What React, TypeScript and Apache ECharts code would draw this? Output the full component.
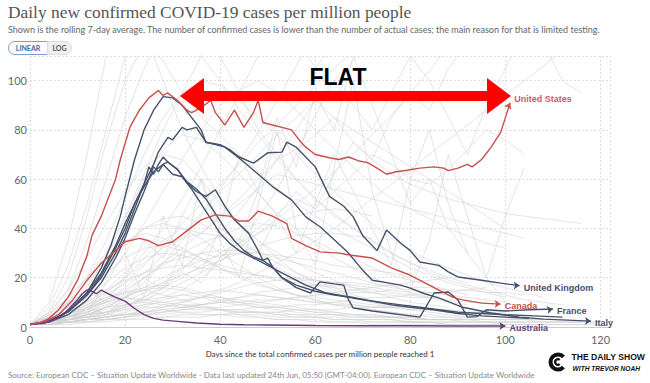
import React, { useEffect, useRef } from "react";
import * as echarts from "echarts";

// ---- highlighted countries: [day, cases per million] ----
const US: number[][] = [[0,1],[2,1.6],[4,3.5],[6,7],[8,12],[10,19],[12,29],[13,37],[15,45],[16,50],[18,60],[19,68],[21,81],[23,88],[25,93],[27,96],[28,94],[29,95],[31,92],[33,88],[34,87],[36,89],[38,92],[39,87],[41,82],[43,88],[45,81],[47,87],[48,92],[49,83],[51,82],[53,81],[55,80],[57,75],[58,73],[60,70],[63,68.7],[65,68],[67,69],[69,67.5],[71,66.7],[73,64.5],[75,62],[77,63],[79,63.5],[82,64.5],[85,65],[87,64.5],[88,63.5],[90,64.5],[92,66],[93,65],[95,68],[97,73],[99,79],[100,85],[101,91]];
const CANADA: number[][] = [[0,1],[3,2],[6,5],[9,11],[12,19],[15,26],[18,31],[20,34.6],[23,36],[25,35],[27,33],[30,34.6],[33,39],[36,43.5],[39,45.5],[42,45],[44,43],[46,43],[48,47],[51,45],[54,42],[55,36],[58,33],[61,30.5],[65,30],[68,29],[72,28],[76,24],[80,21],[83,18],[86,15],[89,12],[91,11],[95,9.7],[99,9.3]];
const ITALY: number[][] = [[0,1],[3,2],[6,4],[9,8],[12,14],[15,24],[17,33],[19,45],[20,53],[22,68],[24,80],[26,88],[28,93.5],[30,93],[32,90],[34,85],[36,80],[37,75],[39,74],[41,73],[43,70],[45,67],[48,62],[51,57],[55,51.6],[58,44.7],[61,40.7],[64,35.4],[67,30],[70,23],[72,19],[75,18],[78,17],[80,15.8],[83,13.5],[86,11.8],[91,8],[97,5.7],[103,4],[108,3.2],[113,2.8],[118,2.4]];
const UK: number[][] = [[0,1],[3,2],[6,4],[9,8],[12,14],[15,22],[18,33],[20,42],[22,50],[24,58],[26,66],[27,71],[29,77],[30,76],[32,81],[33,80],[35,81],[36,78],[37,75],[40,74],[42,72],[44,69],[47,66.5],[50,70.7],[53,71],[54,75],[56,73],[58,69],[60,65],[63,53],[66,49],[68,44.7],[70,37],[73,31],[75,39.4],[78,34],[80,31],[82,26.4],[86,25],[88,22.4],[90,20.3],[95,19],[99,17.8],[103,16.8]];
const FRANCE: number[][] = [[0,1],[3,2],[6,4],[9,8],[12,13],[15,20],[18,30],[20,38],[22,48],[24,58],[25,65],[26,62],[27,66],[28,69],[29,67],[31,64],[33,58.5],[35,55],[37,53],[39,55.7],[41,49],[43,43.5],[46,38],[48,31],[49,27],[51,24.4],[53,20],[56,16],[59,13.8],[61,18.3],[64,17.5],[66,17],[67,11],[68,7.7],[72,6.5],[76,5.5],[80,4.5],[82,4],[85,13.8],[88,14.2],[90,11],[92,4],[94,4.2],[96,7],[100,6.5],[105,7],[110,7.3]];
const OTHER_A: number[][] = [[0,1],[4,2.5],[8,6],[12,13],[15,21],[18,32],[20,40],[22,50],[24,57],[26,63],[28,66],[29,67],[31,64],[33,59],[35,56],[37,52],[39,46],[41,40],[43,35],[45,31],[47,28.5],[49,27],[50,28],[51,24.4],[53,20],[56,17],[60,14.5],[64,13],[68,12],[72,10.5],[76,9],[80,8],[85,7],[90,5.5],[95,4.5],[100,4],[105,3.5]];
const OTHER_B: number[][] = [[0,1],[4,2],[8,5],[12,11],[15,18],[18,28],[20,36],[22,46],[24,55],[25,60],[26,65],[27,63],[28,66],[30,62],[32,61],[34,56],[36,50],[38,44],[40,38],[42,34],[44,31],[47,28],[50,25],[54,21],[58,17],[62,14],[66,12.5],[70,11],[74,10],[78,9],[82,8],[86,7],[90,6],[95,5.5],[100,5],[106,4.5],[112,4]];
const AUSTRALIA: number[][] = [[0,1],[3,1.5],[5,3],[7,5],[9,9],[10,11],[11,13.5],[12,15],[13,14.5],[14,13.5],[15,15],[16,14],[18,12],[20,10.5],[22,7.5],[24,5],[26,3.5],[28,2.8],[31,2.3],[35,1.6],[40,1.1],[45,0.9],[50,0.8],[60,0.6],[70,0.5],[80,0.5],[90,0.4],[100,0.4]];

// ---- all other countries (values every 4 days from day 0) ----
const GRAY_STEP = 4;
const GRAY_LINES: number[][] = [
  [1,2,3,5,6,8,9,10,9,8,7,7,6,5,5,4,4,3,3,3,2,2,2,2,2,1,1,1,1,1],
  [1,1,2,3,4,6,8,11,13,14,15,14,13,12,11,10,9,9,8,8,7,7,7,6,6,6],
  [1,2,2,3,3,4,5,5,6,6,7,7,8,8,9,9,10,11,12,12,13,14,14,15,16],
  [1,3,6,9,12,14,15,13,11,9,7,5,4,3,3,2,2,2,1,1,1,1,1,1,1,1,1,1],
  [1,1,2,2,3,3,4,4,5,5,5,6,6,6,7,7,7,8,8,8,9],
  [1,2,4,7,10,12,11,10,11,12,10,9,8,8,7,6,6,5,5,4,4,3,3,3,2,2,2,2,2,2,2],
  [1,2,3,4,4,5,6,7,8,9,10,12,13,12,11,10,10,9,8,8],
  [1,1,1,2,2,3,3,4,4,4,5,5,5,4,4,4,3,3,3,3,2,2,2,2,2,2,2,2,2,2,2],
  [1,2,3,5,7,9,11,12,13,12,12,11,10,9,8,7,6,5,5,4,4,3,3],
  [1,3,5,8,11,14,16,17,16,14,12,10,9,8,7,6,5,5,4,4,3,3,3,2,2,2,2],
  [1,2,2,3,4,5,7,9,10,12,14,16,18,19,20,19,18,17,16,15,14],
  [1,1,2,3,3,4,6,7,6,5,5,4,4,3,3,3,2,2,2,2,2,2,1,1,1,1,1,1,1,1,1],
  [1,2,4,5,6,7,8,8,9,9,10,10,11,11,12,13,13,14,14,15],
  [1,2,3,3,4,5,5,6,7,8,8,9,10,11,12,13,14,15,16,17,18,19,20],
  [1,3,4,6,8,9,10,9,8,8,7,6,6,5,4,4,3,3,2,2,2,2,1,1,1,1],
  [1,2,5,8,10,13,15,16,15,13,11,10,8,7,6,5,5,4,4,4,3,3,3,3],
  [1,1,2,2,3,4,5,6,8,9,11,12,14,15,16,17,17,16,15,14,13,12],
  [1,2,3,4,5,5,6,6,7,7,7,6,6,6,5,5,5,4,4,4,4,3,3,3,3,3,3,3],
  [1,3,7,12,18,24,28,30,29,27,24,21,18,15,13,11,9,8,7,6,5,5,4,4,3,3,3,3],
  [1,2,5,9,14,20,26,32,36,38,37,34,30,26,22,19,16,13,11,9,8,7,6,5],
  [1,4,9,15,22,28,32,33,31,28,25,23,21,19,18,17,16,15,14,13,12,12,11,10,10],
  [1,2,4,7,11,15,20,25,30,34,37,40,42,41,38,35,31,28,24,21,19,17,15,13],
  [1,3,6,10,15,19,22,24,25,24,23,22,21,20,19,19,18,18,17,17,16,16,15,15,14,14,13],
  [1,2,3,5,8,12,16,20,24,27,29,30,30,29,28,27,25,24,23,22,20],
  [1,3,8,15,24,33,40,44,45,42,38,33,28,24,20,17,14,12,10,9,8,7,6],
  [1,2,4,6,9,12,15,18,21,24,27,30,33,35,37,38,38,37,36],
  [1,5,12,20,28,35,38,36,32,28,24,20,17,15,13,12,11,10,9,8,8,7,7,6,6,5],
  [1,2,4,8,13,18,22,26,28,30,31,31,30,28,26,24,22,20,18,16,15,14,13,12,11,10],
  [1,2,3,4,6,9,12,16,20,25,30,34,38,42,45,47,48,47,45],
  [1,4,10,18,26,34,40,42,40,36,30,25,20,16,13,11,9,8,7,6,5,4,4,3,3,3,3,2,2,2],
  [1,2,4,8,12,18,25,33,42,50,58,66,75,82,90,98,105,112,118,125],
  [1,3,6,10,15,22,30,40,52,65,80,95,110,125,118,105,115,130,140],
  [1,2,3,5,8,12,18,26,35,45,55,62,70,78,85,92,100,108,115,120,125,130],
  [1,5,12,20,30,45,62,80,95,110,125,140],
  [1,2,5,9,14,20,28,35,40,38,45,52,60,68,72,78,85,80,75,70,65,60,55,50,45,40],
  [1,3,8,15,10,20,35,28,45,60,40,70,55,85,65,95,80,110,90,70,50,60,40,30],
  [1,2,4,6,10,14,20,26,32,38,44,50,56,62,60,58,56,54,52,50,48,46,44,42,40,38,36],
  [1,2,3,4,6,8,11,14,18,22,27,32,38,44,50,56,63,70,78,86,95,104,114],
  [1,4,2,8,5,12,20,15,30,22,40,35,55,45,30,50,70,55,40,25,60,80,50,30,20,45,65],
  [1,6,15,28,42,55,65,70,68,60,50,42,35,30,26,22,19,16,14,12,10,9,8],
  [1,2,6,12,20,30,42,55,68,80,90,96,100,95,88,80,72,65,58,52,48,44,40,37,34,32],
  [1,3,10,5,18,30,12,45,25,60,35,20,50,80,40,25,65,100,55,30,15,35,70,45,20,10],
  [1,2,3,4,5,7,9,12,15,20,26,34,44,56,70,86,100,90,80,95,110,100,85,70,90,105,120,115,100,95],
  [1,1,2,3,5,8,12,17,23,30,38,47,57,68,80,92,85,75,68,62,58,55,52,50,48,46,45,44,43,42],
  [1,2,4,7,11,16,22,29,37,46,56,67,79,92,106,120],
  [1,3,5,4,8,12,10,16,22,18,28,36,30,45,55,48,62,75,68,85,95,88,105,115],
  [1,2,3,5,8,10,14,18,24,30,28,34,40,46,52,48,55,62,70,66,60,58,64,72,80,76,70],
  [1,2,2,3,4,5,6,8,10,12,15,18,22,26,30,35,40,46,52,58,64,70,76,82,88,94,100,106,112,118],
  [1,8,25,50,80,110,135,150,140,125,110,95,80,70,60,52,45,40,35,30,26,22,19,17,15,13,11,10,9],
  [1,5,15,35,60,85,105,120,118,110,100,88,78,68,60,52,46,40,35,30,26,23,20,18],
  [1,10,35,70,110,140,120,100,80,65,52,42,35,28,22,18,15,12,10,8,7,6,5,4],
  [1,4,10,20,35,52,70,85,95,100,98,92,85,78,70,62,55,48,42,36,31,27,24,21,18,16,14,12],
  [1,6,20,45,75,100,115,108,95,85,78,70,63,56,50,45,40,36,32,28,24,21,18,16,14,12],
  [1,3,8,16,28,44,60,72,78,76,70,62,54,46,40,34,28,24,20,17,14,12,10,9],
];

const Y_TICKS = [0, 20, 40, 60, 80, 100];
const X_TICKS = [0, 20, 40, 60, 80, 100, 120];

const TITLE = "Daily new confirmed COVID-19 cases per million people";
const SUBTITLE = "Shown is the rolling 7-day average. The number of confirmed cases is lower than the number of actual cases; the main reason for that is limited testing.";
const X_NAME = "Days since the total confirmed cases per million people reached 1";
const SOURCE = "Source: European CDC \u2013 Situation Update Worldwide - Data last updated 24th Jun, 05:50 (GMT-04:00). European CDC \u2013 Situation Update Worldwide";

const RED = "#c8504c";
const SLATE = "#44516a";
const PURPLE = "#6b3a7d";

const HIGHLIGHTS = [
  { name: "", data: OTHER_A, color: SLATE, label: SLATE, rot: -90 },
  { name: "", data: OTHER_B, color: SLATE, label: SLATE, rot: -90 },
  { name: "Italy", data: ITALY, color: SLATE, label: SLATE, rot: -90 },
  { name: "France", data: FRANCE, color: SLATE, label: SLATE, rot: -80 },
  { name: "United Kingdom", data: UK, color: SLATE, label: SLATE, rot: -90 },
  { name: "Canada", data: CANADA, color: RED, label: RED, rot: -90 },
  { name: "Australia", data: AUSTRALIA, color: PURPLE, label: PURPLE, rot: -90 },
  { name: "United States", data: US, color: RED, label: "#cf5c5a", rot: -25 },
];

export default function App() {
  const ref = useRef<HTMLDivElement>(null);
  useEffect(() => {
    if (!ref.current) return;
    const chart = echarts.init(ref.current, undefined, { renderer: "svg" });

    const graySeries = GRAY_LINES.map((vals, k) => ({
      type: "line",
      name: "g" + k,
      data: vals.map((v, i) => [i * GRAY_STEP, v]),
      symbol: "none",
      silent: true,
      z: 1,
      lineStyle: { color: "#d2d2d2", width: 0.8, opacity: 0.75 },
    }));

    const hiSeries = HIGHLIGHTS.map((h, k) => ({
      type: "line",
      name: h.name,
      data: h.data.map((p, i) =>
        i === h.data.length - 1 && h.name
          ? { value: p, symbol: "arrow", symbolSize: 6, symbolRotate: h.rot }
          : { value: p, symbol: "none" }
      ),
      symbol: "none",
      showSymbol: true,
      silent: true,
      z: 3 + k,
      itemStyle: { color: h.color },
      lineStyle: { color: h.color, width: 1.4 },
      endLabel: h.name
        ? {
            show: true,
            formatter: h.name,
            color: h.label,
            fontFamily: "Liberation Sans, Arial, sans-serif",
            fontWeight: "bold",
            fontSize: 9,
            distance: 4,
            offset: h.name === "United States" ? [0, -4] : [0, 2],
          }
        : { show: false },
    }));

    chart.setOption({
      animation: false,
      grid: { left: 30, right: 40, top: 56, bottom: 56, containLabel: false },
      xAxis: {
        type: "value",
        min: 0,
        max: 122,
        interval: 20,
        name: X_NAME,
        nameLocation: "middle",
        nameGap: 23,
        nameTextStyle: { fontFamily: "Lato", fontSize: 8, color: "#333" },
        axisLine: { show: true, lineStyle: { color: "#ccc" } },
        axisTick: { show: false },
        axisLabel: {
          margin: 7,
          fontFamily: "Lato",
          fontSize: 11,
          color: "#666",
          formatter: (v: number) => (X_TICKS.includes(v) ? String(v) : ""),
        },
        splitLine: { show: true, lineStyle: { color: "#dedede", type: [2, 2] } },
      },
      yAxis: {
        type: "value",
        min: 0,
        max: 110,
        interval: 20,
        axisLine: { show: false },
        axisTick: { show: false },
        axisLabel: {
          margin: 3,
          fontFamily: "Lato",
          fontSize: 11,
          color: "#666",
          formatter: (v: number) => (Y_TICKS.includes(v) ? String(v) : ""),
        },
        splitLine: { show: true, lineStyle: { color: "#dedede", type: [2, 2] } },
      },
      series: [...graySeries, ...hiSeries],
      graphic: [
        { type: "text", left: 8, top: 3, style: { text: TITLE, fontFamily: "Liberation Serif, serif", fontSize: 17.4, fill: "#555" } },
        { type: "text", left: 8, top: 25, style: { text: SUBTITLE, fontFamily: "Lato", fontSize: 9, fill: "#666" } },
        { type: "rect", shape: { x: 8.5, y: 41.5, width: 39, height: 13, r: [6.5, 0, 0, 6.5] }, style: { fill: "#fff", stroke: "#7d9fcf", lineWidth: 1 } },
        { type: "text", x: 28, y: 48, style: { text: "LINEAR", fontFamily: "Lato", fontWeight: "bold", fontSize: 7, fill: "#3d68a8", align: "center", verticalAlign: "middle" } },
        { type: "rect", shape: { x: 47.5, y: 41.5, width: 24, height: 13, r: [0, 6.5, 6.5, 0] }, style: { fill: "#eeeeee", stroke: "#dddddd", lineWidth: 1 } },
        { type: "text", x: 59.5, y: 48, style: { text: "LOG", fontFamily: "Lato", fontWeight: "bold", fontSize: 7, fill: "#555", align: "center", verticalAlign: "middle" } },
        {
          type: "polygon",
          z: 100,
          shape: { points: [[180, 96], [204, 78], [204, 91], [487, 91], [487, 78], [511, 96], [487, 114], [487, 101], [204, 101], [204, 114]] },
          style: { fill: "#ff0000" },
        },
        { type: "text", z: 100, x: 338, y: 77, style: { text: "FLAT", fontFamily: "Liberation Sans, Arial, sans-serif", fontWeight: "bold", fontSize: 23, fill: "#000", align: "center", verticalAlign: "middle" } },
        { type: "text", left: 8, top: 371, style: { text: SOURCE, fontFamily: "Lato", fontSize: 8, fill: "#888" } },
        { type: "arc", shape: { cx: 558, cy: 362, r: 7.5, startAngle: 0.75, endAngle: Math.PI * 2 - 0.75 }, style: { stroke: "#111", lineWidth: 4, fill: "none" } },
        { type: "arc", shape: { cx: 558, cy: 362, r: 2.8, startAngle: 0.9, endAngle: Math.PI * 2 - 0.9 }, style: { stroke: "#111", lineWidth: 2.2, fill: "none" } },
        { type: "text", x: 645, y: 357, style: { text: "THE DAILY SHOW", fontFamily: "Liberation Sans, Arial, sans-serif", fontWeight: "bold", fontSize: 8.6, fill: "#111", align: "right", verticalAlign: "middle" } },
        { type: "text", x: 640, y: 368.5, style: { text: "WITH TREVOR NOAH", fontFamily: "Liberation Sans, Arial, sans-serif", fontWeight: "bold", fontStyle: "italic", fontSize: 6.6, fill: "#111", align: "right", verticalAlign: "middle" } },
      ],
    });
    return () => chart.dispose();
  }, []);
  return <div ref={ref} style={{ position: "absolute", left: 0, top: 0, width: 650, height: 383 }} />;
}
